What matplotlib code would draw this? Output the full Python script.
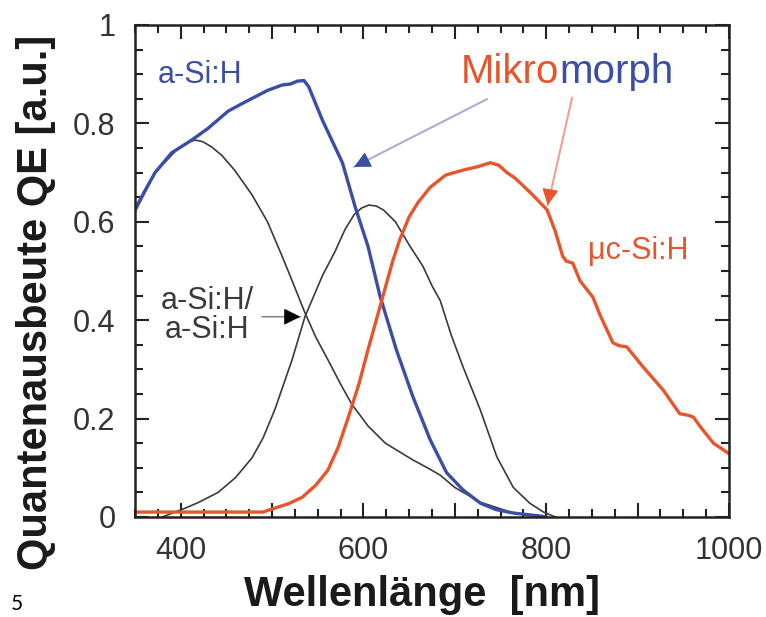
import matplotlib.pyplot as plt
from matplotlib.ticker import MultipleLocator, FuncFormatter

# Werte (Wellenlaenge in nm, QE in a.u.)
blue_x = [350, 360, 372, 390, 412, 430, 452, 470, 495, 511, 520, 528, 535, 540,
          555, 577, 591, 605, 618, 636, 654, 673, 691, 709, 728, 745, 764, 793, 800]
blue_y = [0.625, 0.66, 0.70, 0.74, 0.766, 0.79, 0.825, 0.843, 0.867, 0.878, 0.88,
          0.886, 0.887, 0.875, 0.807, 0.72, 0.63, 0.55, 0.45, 0.34, 0.245, 0.157,
          0.09, 0.055, 0.028, 0.015, 0.008, 0.002, 0.0]

top_x = [350, 372, 395, 408, 416, 424, 434, 445, 459, 478, 495, 511, 522, 536,
         548, 561, 575, 587, 605, 624, 654, 670, 684, 700, 728, 764, 800]
top_y = [0.62, 0.70, 0.745, 0.762, 0.766, 0.763, 0.752, 0.735, 0.705, 0.655, 0.60,
         0.53, 0.48, 0.415, 0.365, 0.32, 0.27, 0.23, 0.185, 0.15, 0.116, 0.10,
         0.085, 0.06, 0.03, 0.008, 0.0]

bot_x = [380, 405, 420, 441, 460, 478, 490, 503, 522, 536, 555, 569, 580, 590,
         598, 606, 614, 622, 635, 651, 665, 675, 684, 696, 709, 728, 746, 764,
         782, 797, 810]
bot_y = [0.0, 0.018, 0.03, 0.05, 0.08, 0.12, 0.16, 0.218, 0.32, 0.407, 0.49, 0.54,
         0.585, 0.615, 0.628, 0.634, 0.632, 0.624, 0.60, 0.55, 0.51, 0.47, 0.44,
         0.37, 0.305, 0.217, 0.122, 0.06, 0.028, 0.01, 0.0]

red_x = [350, 400, 490, 503, 518, 533, 548, 561, 572, 583, 595, 605, 620, 632,
         640, 650, 660, 673, 690, 709, 725, 739, 748, 757, 765, 771, 785, 801,
         810, 818, 822, 829, 837, 851, 859, 873, 880, 888, 906, 928, 946, 955,
         961, 970, 983, 999]
red_y = [0.01, 0.01, 0.01, 0.018, 0.027, 0.04, 0.065, 0.095, 0.14, 0.20, 0.27,
         0.34, 0.44, 0.52, 0.565, 0.61, 0.64, 0.67, 0.695, 0.705, 0.712, 0.72,
         0.715, 0.70, 0.69, 0.68, 0.655, 0.624, 0.58, 0.53, 0.52, 0.516, 0.48,
         0.447, 0.41, 0.354, 0.348, 0.346, 0.305, 0.258, 0.21, 0.207, 0.203,
         0.18, 0.15, 0.13]

x_labels = [400, 600, 800, 1000]

BLUE = '#3b4ea6'
RED = '#e8552c'
DARK = '#3a3a3a'

plt.rcParams['font.family'] = ['Liberation Sans', 'DejaVu Sans']

fig = plt.figure(figsize=(7.66, 6.17), dpi=100)
ax = fig.add_axes([0.1762, 0.1621, 0.7755, 0.7974])

ax.plot(top_x, top_y, color=DARK, lw=1.2)
ax.plot(bot_x, bot_y, color=DARK, lw=1.2)
ax.plot(blue_x, blue_y, color=BLUE, lw=2.4)
ax.plot(red_x, red_y, color=RED, lw=2.4)

ax.set_xlim(350, 1000)
ax.set_ylim(0, 1)

ax.xaxis.set_major_locator(MultipleLocator(100))
ax.xaxis.set_minor_locator(MultipleLocator(25))
ax.xaxis.set_major_formatter(FuncFormatter(lambda v, p: f'{int(v)}' if int(v) in x_labels else ''))
ax.yaxis.set_major_locator(MultipleLocator(0.2))
ax.yaxis.set_minor_locator(MultipleLocator(0.05))
ax.yaxis.set_major_formatter(FuncFormatter(lambda v, p: '0' if v < 0.01 else ('1' if v > 0.99 else f'{v:.1f}')))

ax.tick_params(which='both', direction='in', top=True, right=True, width=1.5, color='#222222')
ax.tick_params(which='major', length=10, labelsize=22, pad=14, labelcolor='#333333')
ax.tick_params(which='minor', length=5.5)
for s in ax.spines.values():
    s.set_linewidth(1.8)
    s.set_color('#222222')

ax.set_xlabel('Wellenlänge  [nm]', fontsize=30, fontweight='bold', color='#1a1a1a')
ax.xaxis.set_label_coords(0.483, -0.118)
ax.set_ylabel('Quantenausbeute QE [a.u.]', fontsize=30, fontweight='bold', va='center', color='#1a1a1a')
ax.yaxis.set_label_coords(-0.167, 0.437)

# Beschriftungen
ax.text(375, 0.898, 'a-Si:H', color=BLUE, fontsize=22, ha='left', va='center')
ax.text(814, 0.905, 'Mikro', color=RED, fontsize=29, ha='right', va='center')
ax.text(814, 0.905, 'morph', color=BLUE, fontsize=29, ha='left', va='center')
ax.text(846, 0.54, 'μc-Si:H', color=RED, fontsize=22, ha='left', va='center')
ax.text(429, 0.41, 'a-Si:H/\na-Si:H', color=DARK, fontsize=22, ha='center', va='center',
        linespacing=0.95)

# Pfeile: Linie und Spitze getrennt, weil sie verschiedene Farben haben
ax.annotate('', xy=(587, 0.709), xytext=(738, 0.852),
            arrowprops=dict(arrowstyle='-', color='#b3abc9', lw=1.5))
ax.annotate('', xy=(587, 0.709), xytext=(605, 0.726),
            arrowprops=dict(arrowstyle='-|>', color=BLUE, lw=1, mutation_scale=25))
ax.annotate('', xy=(801, 0.628), xytext=(829, 0.858),
            arrowprops=dict(arrowstyle='-', color='#f0a08c', lw=1.5))
ax.annotate('', xy=(801, 0.628), xytext=(804, 0.66),
            arrowprops=dict(arrowstyle='-|>', color=RED, lw=1, mutation_scale=25))
ax.annotate('', xy=(534, 0.407), xytext=(486, 0.407),
            arrowprops=dict(arrowstyle='-', color='#888888', lw=1.2))
ax.annotate('', xy=(534, 0.407), xytext=(516, 0.407),
            arrowprops=dict(arrowstyle='-|>', color='black', lw=1, mutation_scale=25))

fig.text(0.014, 0.012, '5', fontsize=15, family=['Lato', 'DejaVu Sans'])

fig.savefig('out.png', dpi=100)
